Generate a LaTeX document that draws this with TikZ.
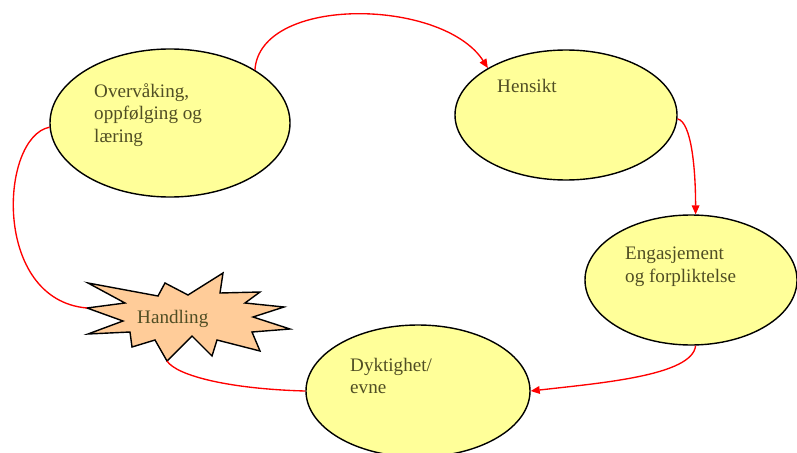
\documentclass[tikz,border=0pt]{standalone}
\usepackage{fontspec}
\setmainfont{Liberation Serif}
\usepackage{xcolor}
\usepackage{tikz}
\usetikzlibrary{arrows.meta, shapes.geometric, positioning}

\definecolor{stagefill}{RGB}{255,255,153}
\definecolor{burstfill}{RGB}{255,204,153}
\definecolor{olivetext}{RGB}{80,78,36}

\begin{document}
\begin{tikzpicture}[x=0.03cm, y=-0.03cm,
    stage/.style={ellipse, draw=black, line width=1.2pt, fill=stagefill, inner sep=0pt},
    burst/.style={draw=black, line width=1.2pt, fill=burstfill, line join=miter},
    words/.style={anchor=north west, align=left, inner sep=0pt, text=olivetext,
      font=\fontsize{16.3}{19}\selectfont},
    flow/.style={draw=red, line width=1.15pt},
    flowarrow/.style={flow, -{Triangle[length=2.7mm, width=2.3mm]}}
  ]
  \useasboundingbox (0,0) rectangle (797,452);
  % The four stages
  \node[stage, minimum width=7.2cm, minimum height=4.44cm] (overv) at (170,123) {};
  \node[stage, minimum width=6.66cm, minimum height=3.9cm] (hensikt) at (566,115) {};
  \node[stage, minimum width=6.36cm, minimum height=3.9cm] (engasj) at (691,280) {};
  \node[stage, minimum width=6.72cm, minimum height=3.96cm] (dykt) at (418,391) {};
  % The action burst
  \draw[burst] (88,283) -- (158,296) -- (165,283) -- (188,295) -- (223,273)
    -- (220,293) -- (260,292) -- (245,303) -- (284,307) -- (253,317)
    -- (290,329) -- (252,332) -- (260,351) -- (217,340) -- (212,356)
    -- (192,336) -- (167,361) coordinate (burstfoot) -- (155,340)
    -- (132,347) -- (130,332) -- (88,334) -- (123,321)
    -- (87,308) coordinate (burstwest) -- (125,303) -- cycle;
  % Texts
  \node[words] (overvtxt) at (94,83.5) {Overvåking,\\oppfølging og\\læring};
  \node[words, anchor=base west] (hensikttxt) at (497,93) {Hensikt};
  \node[words] (engasjtxt) at (625,247) {Engasjement\\og forpliktelse};
  \node[words] (dykttxt) at (350,358) {Dyktighet/\\evne};
  \node[words, anchor=base west] (handling) at (137,323) {Handling};
  % The cycle
  \draw[flowarrow] (overv.32) .. controls +(5,-75) and +(-45,-70) .. (hensikt.149);
  \draw[flowarrow] (hensikt.358) .. controls +(14,3) and +(0,-45) .. (engasj.86);
  \draw[flowarrow] (engasj.274) .. controls +(-3,30) and +(70,-8) .. (dykt.east);
  \draw[flow] (dykt.west) .. controls +(-75,-2) and +(10,15) .. (burstfoot);
  \draw[flow] (burstwest) .. controls +(-95,-8) and +(-50,10) .. (overv.182);
\end{tikzpicture}
\end{document}
